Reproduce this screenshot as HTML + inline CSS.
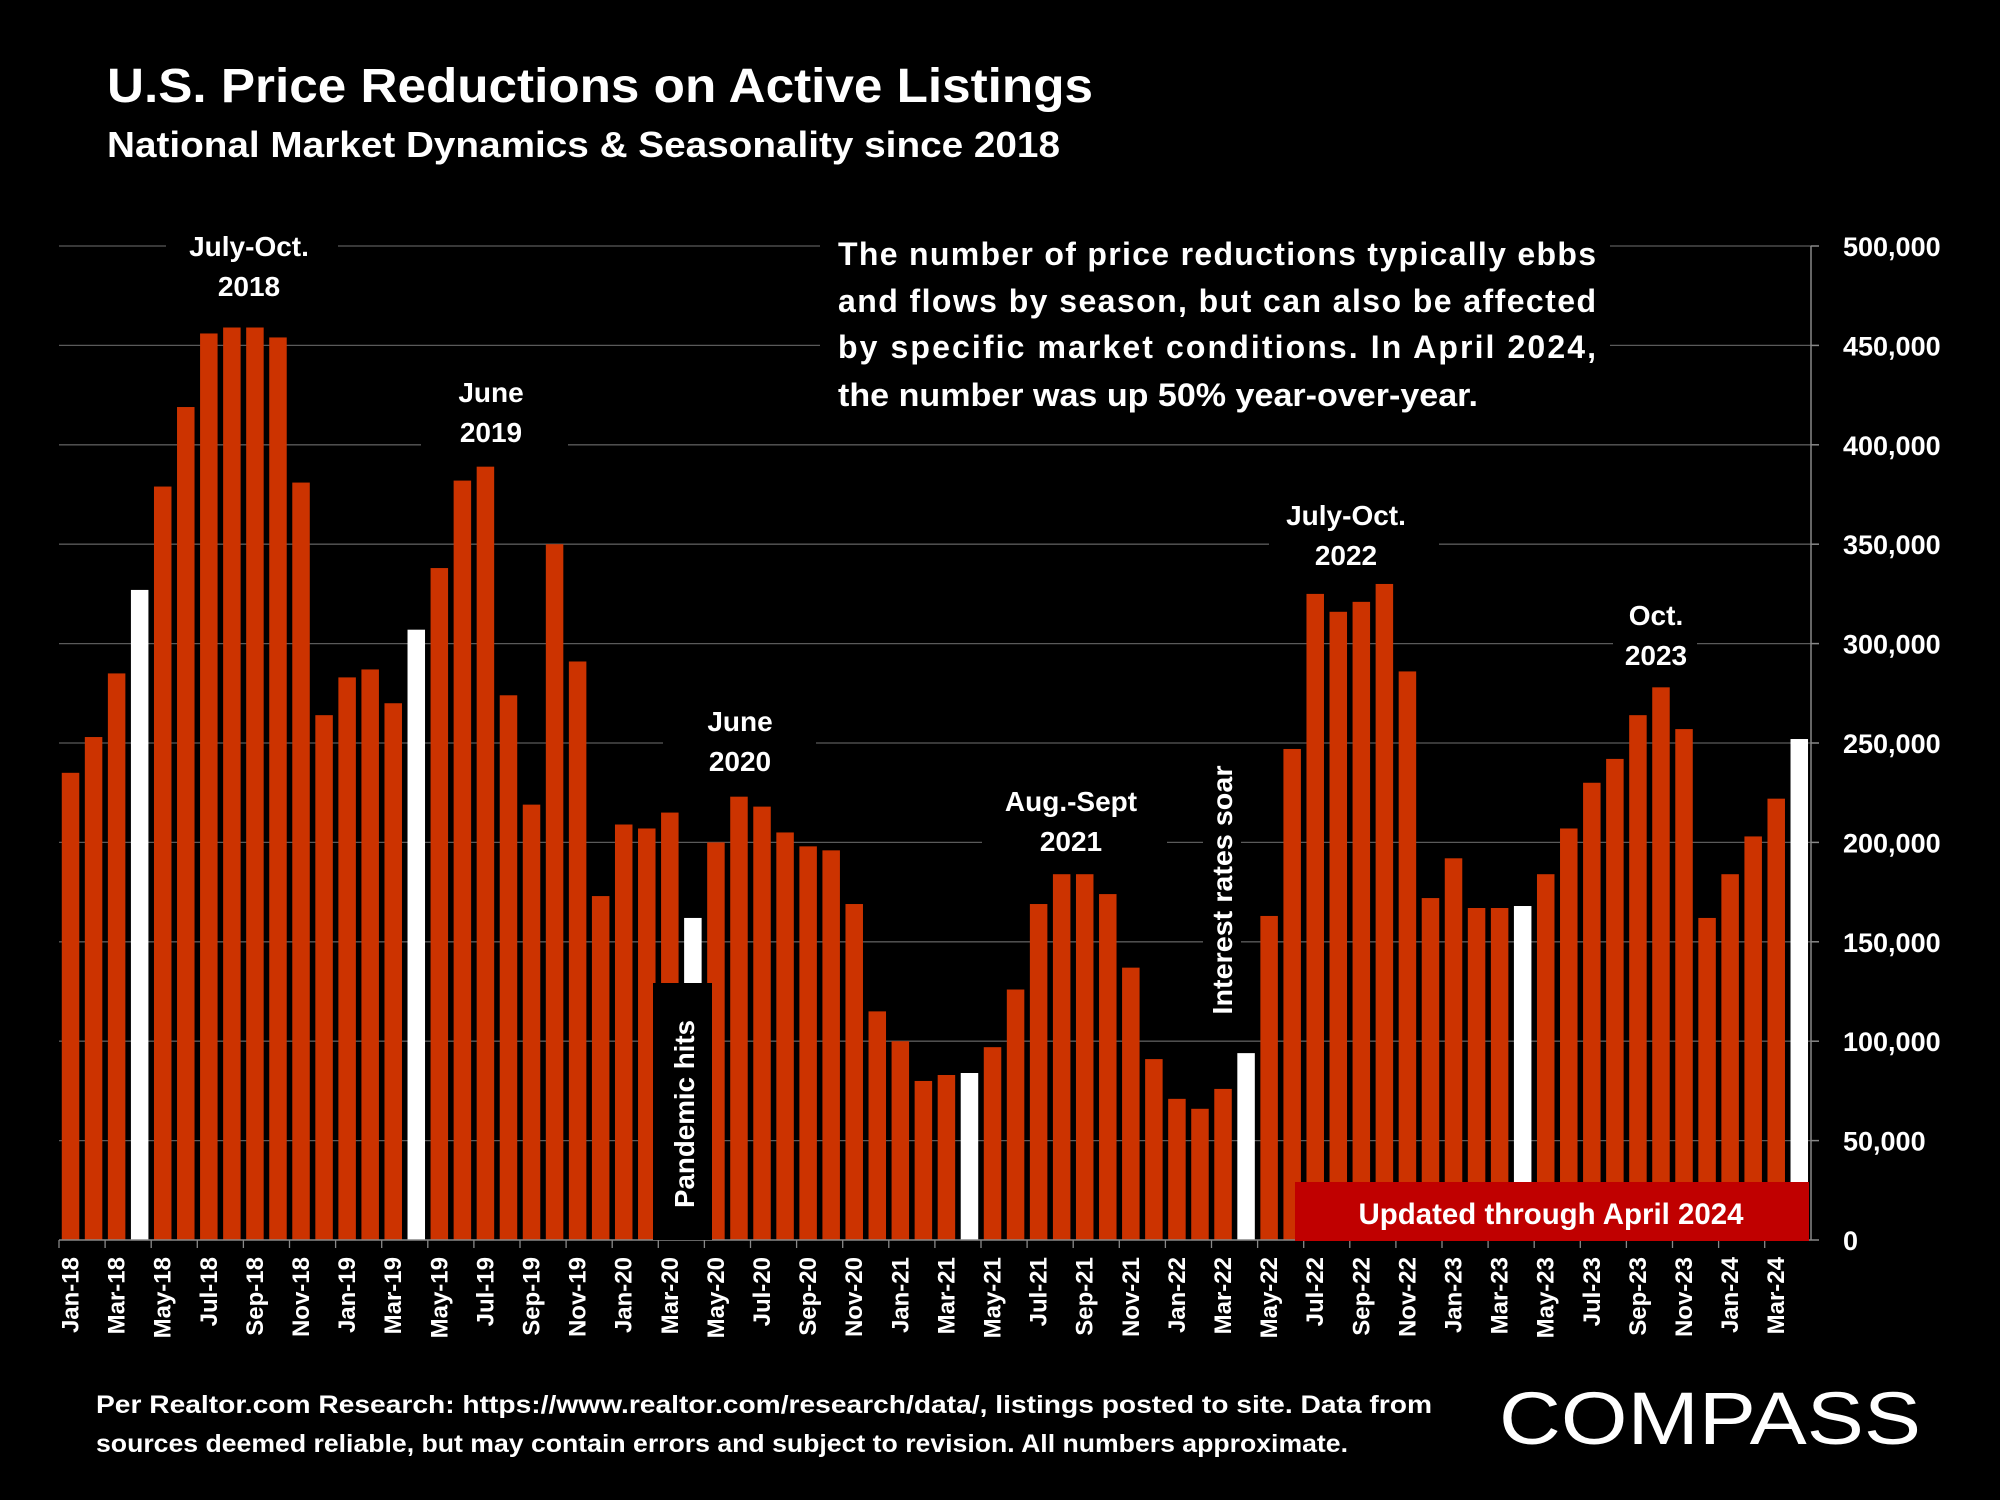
<!DOCTYPE html>
<html><head><meta charset="utf-8"><style>
html,body{margin:0;padding:0;background:#000;}
svg{display:block;font-family:"Liberation Sans",sans-serif;font-weight:bold;}
</style></head><body>
<svg id="chart" width="2000" height="1500" viewBox="0 0 2000 1500" xmlns="http://www.w3.org/2000/svg">
<rect x="0" y="0" width="2000" height="1500" fill="#000"/>
<text x="107" y="102" fill="#fff" font-size="48" textLength="986" lengthAdjust="spacingAndGlyphs">U.S. Price Reductions on Active Listings</text>
<text x="107" y="157" fill="#fff" font-size="36" textLength="953" lengthAdjust="spacingAndGlyphs">National Market Dynamics &amp; Seasonality since 2018</text>
<g id="grid"></g>
<g id="bars"></g>
<g id="yaxis"></g>
<g id="xaxis"></g>
<g id="notes"></g>
<g>
<rect x="820" y="225" width="790" height="195" fill="#000"/>
<text x="838" y="265" fill="#fff" font-size="32" textLength="758" lengthAdjust="spacing">The number of price reductions typically ebbs</text>
<text x="838" y="312" fill="#fff" font-size="32" textLength="758" lengthAdjust="spacing">and flows by season, but can also be affected</text>
<text x="838" y="358" fill="#fff" font-size="32" textLength="758" lengthAdjust="spacing">by specific market conditions. In April 2024,</text>
<text x="838" y="406" fill="#fff" font-size="32" textLength="640" lengthAdjust="spacingAndGlyphs">the number was up 50% year-over-year.</text>
</g>
<g>
<rect x="1295" y="1182" width="514" height="59" fill="#c00000"/>
<text x="1551" y="1224" fill="#fff" font-size="30" text-anchor="middle" textLength="385" lengthAdjust="spacingAndGlyphs">Updated through April 2024</text>
</g>
<g>
<text x="96" y="1413" fill="#fff" font-size="25" textLength="1336" lengthAdjust="spacingAndGlyphs">Per Realtor.com Research:  https://www.realtor.com/research/data/, listings posted to site. Data from</text>
<text x="96" y="1452" fill="#fff" font-size="25" textLength="1252" lengthAdjust="spacingAndGlyphs">sources deemed reliable, but may contain errors and subject to revision. All numbers approximate.</text>
</g>
<text x="1499" y="1444" fill="#fff" font-size="74" font-weight="normal" textLength="422" lengthAdjust="spacingAndGlyphs">COMPASS</text>
</svg>
<script>
const months = ["Jan-18","Feb-18","Mar-18","Apr-18","May-18","Jun-18","Jul-18","Aug-18","Sep-18","Oct-18","Nov-18","Dec-18",
"Jan-19","Feb-19","Mar-19","Apr-19","May-19","Jun-19","Jul-19","Aug-19","Sep-19","Oct-19","Nov-19","Dec-19",
"Jan-20","Feb-20","Mar-20","Apr-20","May-20","Jun-20","Jul-20","Aug-20","Sep-20","Oct-20","Nov-20","Dec-20",
"Jan-21","Feb-21","Mar-21","Apr-21","May-21","Jun-21","Jul-21","Aug-21","Sep-21","Oct-21","Nov-21","Dec-21",
"Jan-22","Feb-22","Mar-22","Apr-22","May-22","Jun-22","Jul-22","Aug-22","Sep-22","Oct-22","Nov-22","Dec-22",
"Jan-23","Feb-23","Mar-23","Apr-23","May-23","Jun-23","Jul-23","Aug-23","Sep-23","Oct-23","Nov-23","Dec-23",
"Jan-24","Feb-24","Mar-24","Apr-24"];
const reductions = [235000,253000,285000,327000,379000,419000,456000,459000,459000,454000,381000,264000,
283000,287000,270000,307000,338000,382000,389000,274000,219000,350000,291000,173000,
209000,207000,215000,162000,200000,223000,218000,205000,198000,196000,169000,115000,
100000,80000,83000,84000,97000,126000,169000,184000,184000,174000,137000,91000,
71000,66000,76000,94000,163000,247000,325000,316000,321000,330000,286000,172000,
192000,167000,167000,168000,184000,207000,230000,242000,264000,278000,257000,162000,
184000,203000,222000,252000];
const yTicks = [0,50000,100000,150000,200000,250000,300000,350000,400000,450000,500000];
const yTickLabels = ["0","50,000","100,000","150,000","200,000","250,000","300,000","350,000","400,000","450,000","500,000"];

const NS="http://www.w3.org/2000/svg";
const X0=59, STEP=23.05, BW=17.5, Y0=1240, Y1=246, XEND=1811;
function yScale(v){return Y0-v*(Y0-Y1)/500000;}
function xCenter(i){return X0+STEP*(i+0.5);}
function mk(tag,attrs,parent){const e=document.createElementNS(NS,tag);for(const k in attrs)e.setAttribute(k,attrs[k]);parent.appendChild(e);return e;}

const grid=document.getElementById('grid');
yTicks.forEach((t,i)=>{
  if(t===0)return;
  const l=mk('line',{x1:X0,x2:XEND,y1:yScale(t),y2:yScale(t),stroke:'#5a5a5a','stroke-width':1.3},grid);
  
  
});
const bars=document.getElementById('bars');
reductions.forEach((v,i)=>{
  const isApril=months[i].startsWith('Apr');
  const r=mk('rect',{x:xCenter(i)-BW/2,y:yScale(v),width:BW,height:Y0-yScale(v),fill:isApril?'#ffffff':'#cc3300'},bars);
  
  
});
const ya=document.getElementById('yaxis');
mk('line',{x1:XEND,x2:XEND,y1:Y1,y2:Y0,stroke:'#888','stroke-width':1.5},ya);
yTicks.forEach((t,i)=>{
  mk('line',{x1:XEND,x2:XEND+8,y1:yScale(t),y2:yScale(t),stroke:'#888','stroke-width':1.5},ya);
  const tx=mk('text',{x:1843,y:yScale(t)+10,fill:'#fff','font-size':27},ya);
  tx.textContent=yTickLabels[i];
  
  
});
const xa=document.getElementById('xaxis');
mk('line',{x1:X0,x2:XEND,y1:Y0,y2:Y0,stroke:'#888','stroke-width':1.5},xa);
months.forEach((m,i)=>{
  if(i%2===0){
    mk('line',{x1:X0+STEP*i,x2:X0+STEP*i,y1:Y0,y2:Y0+8,stroke:'#888','stroke-width':1.3},xa);
    const cx=xCenter(i)+8;
    const tx=mk('text',{x:cx,y:1257,fill:'#fff','font-size':24,'text-anchor':'end',transform:`rotate(-90 ${cx} 1257)`},xa);
    tx.textContent=m;
    
    
  }
});
const notes=document.getElementById('notes');
const ann=[["July-Oct.","2018",249,246,166,338],["June","2019",491,392,421,568],["June","2020",740,721,663,816],
["Aug.-Sept","2021",1071,801,982,1167],["July-Oct.","2022",1346,515,1269,1439],["Oct.","2023",1656,615,1613,1697]];
ann.forEach(a=>{
  mk('rect',{x:a[4],y:a[3]-28,width:a[5]-a[4],height:90,fill:'#000'},notes);
  const t1=mk('text',{x:a[2],y:a[3]+10,fill:'#fff','font-size':28,'text-anchor':'middle'},notes);t1.textContent=a[0];
  
  
  const t2=mk('text',{x:a[2],y:a[3]+50,fill:'#fff','font-size':28,'text-anchor':'middle'},notes);t2.textContent=a[1];
  
  
});
mk('rect',{x:653,y:983,width:59,height:257,fill:'#000'},notes);
const p=mk('text',{x:694,y:1114,fill:'#fff','font-size':28,'text-anchor':'middle',textLength:188,lengthAdjust:'spacingAndGlyphs',transform:'rotate(-90 694 1114)'},notes);
p.textContent='Pandemic hits';


mk('rect',{x:1203,y:755,width:38,height:265,fill:'#000'},notes);
const ir=mk('text',{x:1232,y:890,fill:'#fff','font-size':28,'text-anchor':'middle',textLength:249,lengthAdjust:'spacingAndGlyphs',transform:'rotate(-90 1232 890)'},notes);
ir.textContent='Interest rates soar';


</script>
</body></html>
